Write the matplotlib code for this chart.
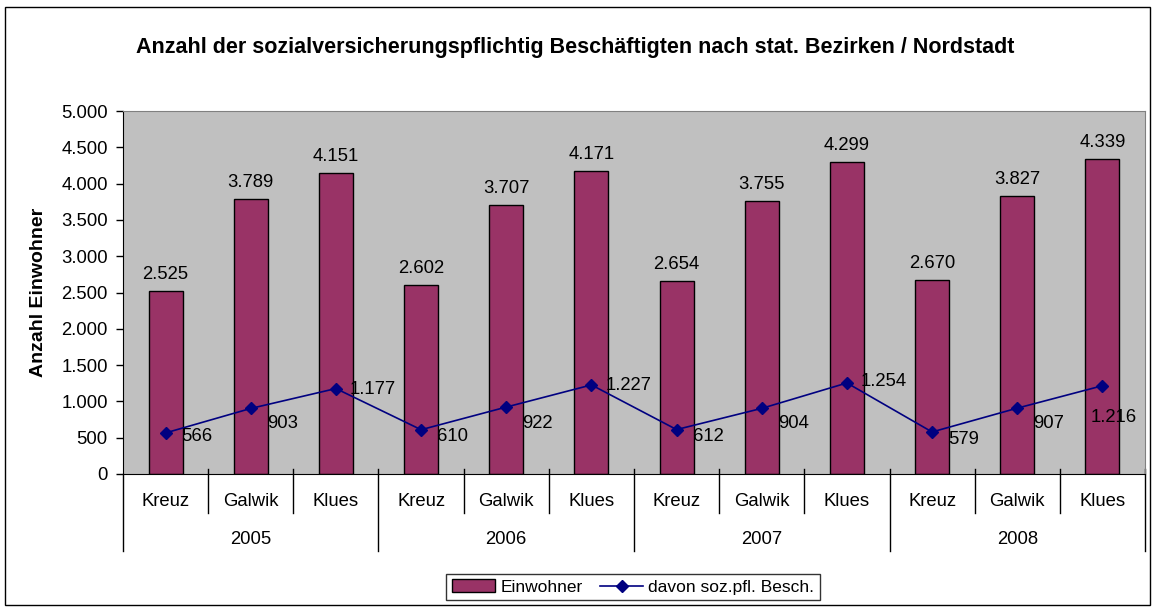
import matplotlib
matplotlib.use("Agg")
import matplotlib.pyplot as plt
from matplotlib.patches import Rectangle, Patch
from matplotlib.lines import Line2D
from matplotlib.ticker import FuncFormatter, MultipleLocator

plt.rcParams['font.family'] = ['Liberation Sans', 'DejaVu Sans']

# data
years = ["2005", "2006", "2007", "2008"]
bezirke = ["Kreuz", "Galwik", "Klues"]
einwohner = [2525, 3789, 4151, 2602, 3707, 4171, 2654, 3755, 4299, 2670, 3827, 4339]
beschaeftigte = [566, 903, 1177, 610, 922, 1227, 612, 904, 1254, 579, 907, 1216]
# shift of the line labels (pixels)
label_dx = [16, 16, 14, 16, 16, 14, 16, 16, 14, 16, 16, -12]
label_dy = [-4, -15, -1, -7, -16, -1, -7, -15, 1, -8, -15, -32]

W, H = 1155, 610
fig = plt.figure(figsize=(W / 100, H / 100), dpi=100)
fig.patches.append(Rectangle((5 / W, 5 / H), 1145 / W, 598 / H, transform=fig.transFigure,
                             fill=False, edgecolor='black', linewidth=1))

ax = fig.add_axes([123 / W, (H - 474) / H, (1145 - 123) / W, (474 - 111) / H])
ax.set_facecolor('#C0C0C0')

x = list(range(len(einwohner)))
bars = ax.bar(x, einwohner, width=0.4, color='#993366', edgecolor='black', linewidth=1, zorder=2)
ax.plot(x, beschaeftigte, color='#000080', linewidth=1.2, marker='D', markersize=6, zorder=3)

for xi, v in zip(x, einwohner):
    ax.annotate(f"{v:,}".replace(",", "."), (xi, v), xytext=(0, 8), textcoords='offset pixels',
                ha='center', va='bottom', fontsize=13.3)
for xi, v, dx, dy in zip(x, beschaeftigte, label_dx, label_dy):
    ax.annotate(f"{v:,}".replace(",", "."), (xi, v), xytext=(dx, dy), textcoords='offset pixels',
                ha='left', va='center', fontsize=13.3, zorder=4)

ax.set_xlim(-0.5, len(x) - 0.5)
ax.set_ylim(0, 5000)
ax.yaxis.set_major_locator(MultipleLocator(500))
ax.yaxis.set_major_formatter(FuncFormatter(lambda v, p: f"{v:,.0f}".replace(",", ".")))
ax.tick_params(axis='y', length=5, width=1, pad=6, labelsize=13.3, direction='out')
ax.set_xticks([])

for s in ['top', 'right']:
    ax.spines[s].set_color('#808080')
for s in ['left', 'bottom']:
    ax.spines[s].set_color('black')

ax.set_ylabel("Anzahl Einwohner", fontsize=14, fontweight='bold', labelpad=10)

# two-level category axis
tr = ax.get_xaxis_transform()
ph = 474 - 111
n = len(bezirke)
for i in range(len(x) + 1):
    xs = i - 0.5
    if i % n == 0:
        y0, y1 = 0 if i == 0 else 5 / ph, -77 / ph
    else:
        y0, y1 = 5 / ph, -39 / ph
    ax.add_line(Line2D([xs, xs], [y0, y1], transform=tr, color='black', linewidth=1, clip_on=False))
for i, xi in enumerate(x):
    ax.text(xi, -28 / ph, bezirke[i % n], transform=tr, ha='center', va='center', fontsize=13.3)
for j, yr in enumerate(years):
    ax.text(j * n + (n - 1) / 2, -65 / ph, yr, transform=tr, ha='center', va='center', fontsize=13.3)

fig.text(575 / W, 1 - 48 / H,
         "Anzahl der sozialversicherungspflichtig Beschäftigten nach stat. Bezirken / Nordstadt",
         ha='center', va='center', fontsize=15.5, fontweight='bold')

handles = [Patch(facecolor='#993366', edgecolor='black'),
           Line2D([], [], color='#000080', marker='D', markersize=6, linewidth=1.2)]
leg = fig.legend(handles, ["Einwohner", "davon soz.pfl. Besch."], loc='center',
                 bbox_to_anchor=(633 / W, 1 - 587 / H), ncol=2, fontsize=12.5,
                 frameon=True, fancybox=False, edgecolor='black', handlelength=2.5,
                 borderpad=0.3, columnspacing=1.0, handletextpad=0.3)
leg.get_frame().set_linewidth(1)

fig.savefig("out.png", dpi=100)
